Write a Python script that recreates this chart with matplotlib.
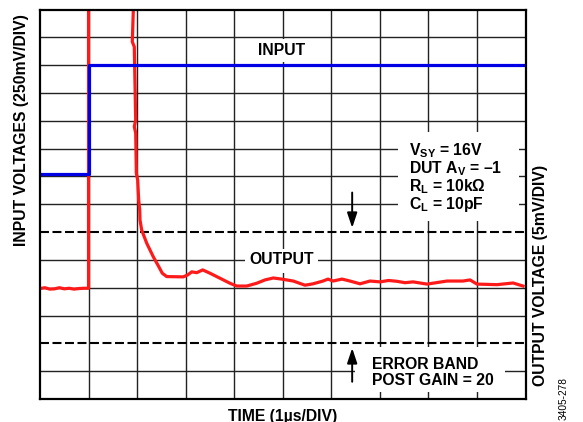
import matplotlib
matplotlib.use('Agg')
import matplotlib.pyplot as plt
from matplotlib.patches import Rectangle

plt.rcParams['font.family'] = 'Liberation Sans'
plt.rcParams['mathtext.fontset'] = 'custom'
plt.rcParams['mathtext.rm'] = 'Liberation Sans:bold'
plt.rcParams['mathtext.bf'] = 'Liberation Sans:bold'
plt.rcParams['mathtext.default'] = 'bf'

# scope screen: 10 x 14 divisions, values read in divisions
input_x = [0, 1.0, 1.0, 10]
input_y = [8.08, 8.08, 12.0, 12.0]

# output before the step, then the step going off screen
out_pre_x = [0, 0.1, 0.2, 0.3, 0.4, 0.5, 0.6, 0.7, 0.8, 0.9, 1.0, 1.0]
out_pre_y = [3.97, 4.0, 3.95, 3.96, 4.0, 3.96, 3.98, 3.95, 3.97, 3.98, 3.98, 15.0]

# output coming back on screen and settling
out_x = [1.922, 1.922, 1.901, 1.942, 1.963, 1.971, 1.942, 1.971, 1.984, 2.012,
         2.033, 2.054, 2.060, 2.095, 2.198, 2.334, 2.445, 2.519, 2.610, 2.952,
         3.042, 3.125, 3.228, 3.351, 3.502, 3.708, 3.913, 4.052, 4.257, 4.463,
         4.634, 4.805, 4.978, 5.217, 5.458, 5.623, 5.829, 5.932, 6.035, 6.220,
         6.385, 6.591, 6.797, 7.003, 7.180, 7.353, 7.520, 7.683, 7.971, 8.383,
         8.713, 8.857, 9.001, 9.413, 9.743, 9.949]
out_y = [14.5, 13.98, 12.84, 12.66, 10.75, 10.03, 9.79, 9.56, 8.12, 7.87,
         7.15, 6.79, 6.43, 6.07, 5.60, 5.11, 4.76, 4.52, 4.40, 4.39,
         4.46, 4.57, 4.54, 4.64, 4.52, 4.34, 4.16, 4.06, 4.06, 4.16,
         4.28, 4.35, 4.31, 4.24, 4.09, 4.14, 4.24, 4.31, 4.24, 4.31,
         4.24, 4.14, 4.24, 4.21, 4.26, 4.23, 4.18, 4.21, 4.13, 4.24,
         4.24, 4.28, 4.13, 4.11, 4.17, 4.06]

error_band = [2, 6]

fig = plt.figure(figsize=(5.83, 4.22), dpi=100)
ax = fig.add_axes([40 / 583, 23 / 422, 485.5 / 583, 389.5 / 422])
ax.set_xlim(0, 10)
ax.set_ylim(0, 14)
ax.set_xticks([])
ax.set_yticks([])
for s in ax.spines.values():
    s.set_linewidth(1.6)
    s.set_zorder(10)

# grid
for i in range(1, 10):
    ax.axvline(i, color='#222222', lw=1.0, zorder=1)
for j in range(1, 14):
    if j in error_band:
        continue
    ax.axhline(j, color='#222222', lw=1.0, zorder=1)
for j in error_band:
    ax.axhline(j, color='black', lw=1.5, dashes=(4.3, 1.7), zorder=2.5)

# white boxes behind labels
for (x0, x1, y0, y1) in [(4.43, 5.54, 12.11, 12.95), (4.22, 5.73, 4.53, 5.39),
                         (7.37, 9.87, 6.40, 9.60), (6.49, 9.58, 0.25, 1.87)]:
    ax.add_patch(Rectangle((x0, y0), x1 - x0, y1 - y0, facecolor='white',
                           edgecolor='none', zorder=2))

ax.plot(out_pre_x, out_pre_y, color='#ff1a1a', lw=2.3, zorder=3,
        solid_joinstyle='round')
ax.plot(out_x, out_y, color='#ff1a1a', lw=2.3, zorder=3, solid_joinstyle='round')
ax.plot(input_x, input_y, color='#0000e6', lw=2.3, zorder=4)

fs = 11.3
ax.text(4.98, 12.52, 'INPUT', fontsize=fs, fontweight='bold', ha='center',
        va='center', zorder=5)
ax.text(4.98, 5.0, 'OUTPUT', fontsize=fs, fontweight='bold', ha='center',
        va='center', zorder=5)

spec = ['V$_{SY}$ = 16V', 'DUT A$_{V}$ = \u20131', 'R$_{L}$ = 10k\u03a9',
        'C$_{L}$ = 10pF']
spec_base = [8.753, 8.117, 7.480, 6.844]
for t, yb in zip(spec, spec_base):
    ax.text(7.6, yb, t, fontsize=fs, fontweight='bold', ha='left',
            va='baseline', zorder=5)

ax.text(6.83, 1.07, 'ERROR BAND', fontsize=fs, fontweight='bold', ha='left',
        va='baseline', zorder=5)
ax.text(6.83, 0.503, 'POST GAIN = 20', fontsize=fs, fontweight='bold', ha='left',
        va='baseline', zorder=5)

arrow = dict(arrowstyle='-|>,head_length=0.6,head_width=0.2', color='black',
             lw=1.4, mutation_scale=15, shrinkA=0, shrinkB=0)
ax.annotate('', xy=(6.43, 6.15), xytext=(6.43, 7.42), arrowprops=arrow, zorder=5)
ax.annotate('', xy=(6.43, 1.83), xytext=(6.43, 0.62), arrowprops=arrow, zorder=5)

fig.text(21.5 / 583, 1 - 130 / 422, 'INPUT VOLTAGES (250mV/DIV)', fontsize=fs,
         fontweight='bold', rotation=90, ha='center', va='center')
fig.text(540 / 583, 1 - 275 / 422, 'OUTPUT VOLTAGE (5mV/DIV)', fontsize=fs,
         fontweight='bold', rotation=90, ha='center', va='center')
fig.text(282.5 / 583, 1.5 / 422, 'TIME (1\u00b5s/DIV)', fontsize=fs,
         fontweight='bold', ha='center', va='baseline')
fig.text(564 / 583, 1 - 398 / 422, '3405-278', fontsize=7.3, rotation=90,
         ha='center', va='center')

fig.savefig('out.png', dpi=100)
